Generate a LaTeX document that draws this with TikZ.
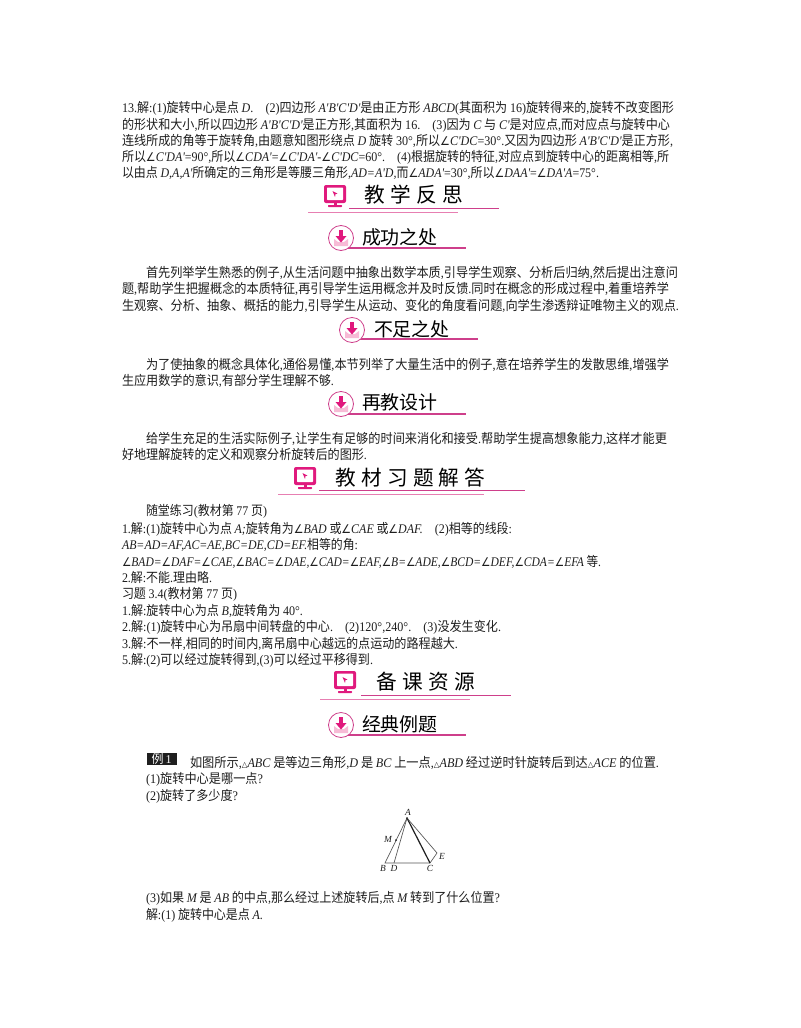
\documentclass[tikz,border=0pt]{standalone}
\usepackage{fontspec}
\usepackage{graphicx}
\setmainfont{Noto Sans CJK SC}
\newfontfamily\latf{Liberation Serif}
\newfontfamily\djvf{DejaVu Sans}
\newcommand{\ra}[1]{{\latf #1}}
\newcommand{\ia}[1]{{\latf\itshape #1}}
\newcommand{\ang}{{\djvf\small ∠}}
\newcommand{\tri}{{\djvf\fontsize{6}{6}\selectfont △}}
\definecolor{ink}{HTML}{1E1E1E}
\definecolor{mag}{HTML}{E0197D}
\definecolor{ruleA}{HTML}{CE3F8B}
\definecolor{ruleB}{HTML}{E77FB2}
\definecolor{envl}{HTML}{F7BBD6}
\tikzset{
  x=0.75pt,y=-0.75pt,
  txt/.style={anchor=base west,inner sep=0pt,outer sep=0pt,yshift=-0.75pt,text=ink,font=\fontsize{9.9}{12}\selectfont},
  subt/.style={anchor=base west,inner sep=0pt,outer sep=0pt,yshift=-0.75pt,text=black,font=\fontsize{14.2}{16}\selectfont},
  headt/.style={anchor=base west,inner sep=0pt,outer sep=0pt,yshift=-0.75pt,text=black,font=\fontsize{15.5}{18}\selectfont},
  lab/.style={inner sep=0pt,outer sep=0pt,text=ink,font=\latf\itshape\fontsize{7}{8}\selectfont},
  ruleone/.style={draw=ruleA,line width=0.75pt},
  ruletwo/.style={draw=ruleB,line width=0.75pt},
  subrule/.style={draw=ruleA,line width=1pt},
  geo/.style={draw=ink!75,line width=0.5pt},
  geobold/.style={draw=ink,line width=0.9pt},
}
\newcommand{\hgap}{\hspace{4pt}}
% text line: name, x, y of baseline, right end, text
\newcommand{\tlx}[5]{\pgfmathsetlengthmacro{\tlw}{(#4-#2)*0.75}%
  \node[txt] (#1) at (#2,#3) {\resizebox{\tlw}{\height}{#5}};}
% monitor icon centred at x,y
\newcommand{\monitor}[2]{%
  \begin{scope}[shift={(#1,#2)}]
    \fill[mag,rounded corners=1.5pt] (-11,-11) rectangle (11,7);
    \fill[white,rounded corners=0.5pt] (-8,-8.5) rectangle (8,4);
    \fill[mag] (-2.5,-5) -- (2.5,-2.5) -- (0.5,-1.8) -- (0,1) -- cycle;
    \fill[mag] (-1.5,7) rectangle (1.5,9);
    \fill[mag,rounded corners=0.5pt] (-7,9) rectangle (7,11);
  \end{scope}}
% circle icon centred at x,y
\newcommand{\badge}[2]{%
  \begin{scope}[shift={(#1,#2)}]
    \fill[white] (0,0) circle (12.5);
    \fill[envl] (-7,1) -- (-3,4) -- (3,4) -- (7,1) -- (7,8) -- (-7,8) -- cycle;
    \draw[ruleA,line width=0.6pt] (0,0) circle (12.5);
    \fill[mag] (-2.2,-8) rectangle (2.2,-1.5);
    \fill[mag] (-5.5,-2) -- (5.5,-2) -- (0,4.5) -- cycle;
  \end{scope}}
\begin{document}
\begin{tikzpicture}
\useasboundingbox (0,0) rectangle (800,1028);
\fill[white] (0,0) rectangle (800,1028);
% first block
\tlx{a1}{122}{111}{674}{\ra{13.}解\ra{:(1)}旋转中心是点 \ia{D}\ra{.}\quad\ra{(2)}四边形 \ia{A'B'C'D'}是由正方形 \ia{ABCD}\ra{(}其面积为 \ra{16)}旋转得来的\ra{,}旋转不改变图形}
\tlx{a2}{122}{128}{670}{的形状和大小\ra{,}所以四边形 \ia{A'B'C'D'}是正方形\ra{,}其面积为 \ra{16.}\quad\ra{(3)}因为 \ia{C} 与 \ia{C'}是对应点\ra{,}而对应点与旋转中心}
\tlx{a3}{122}{144}{673}{连线所成的角等于旋转角\ra{,}由题意知图形绕点 \ia{D} 旋转 \ra{30°,}所以\ang\ia{C'DC}\ra{=30°.}又因为四边形 \ia{A'B'C'D'}是正方形\ra{,}}
\tlx{a4}{122}{160}{669}{所以\ang\ia{C'DA'}\ra{=90°,}所以\ang\ia{CDA'}\ra{=}\ang\ia{C'DA'}\ra{-}\ang\ia{C'DC}\ra{=60°.}\quad\ra{(4)}根据旋转的特征\ra{,}对应点到旋转中心的距离相等\ra{,}所}
\tlx{a5}{122}{176}{599}{以由点 \ia{D,A,A'}所确定的三角形是等腰三角形\ra{,}\ia{AD=A'D,}而\ang\ia{ADA'}\ra{=30°,}所以\ang\ia{DAA'}\ra{=}\ang\ia{DA'A}\ra{=75°.}}
% heading 1
\monitor{335}{196}
\node[headt] (h1) at (364,201) {教\hgap 学\hgap 反\hgap 思};
\coordinate (h1a) at (349,208); \coordinate (h1b) at (499,208);
\coordinate (h1c) at (308,212); \coordinate (h1d) at (458,212);
\draw[ruleone] (h1a) -- (h1b);
\draw[ruletwo] (h1c) -- (h1d);
% sub 1
\coordinate (s1a) at (347,248); \coordinate (s1b) at (466,248);
\draw[subrule] (s1a) -- (s1b);
\badge{341}{238}
\node[subt] (s1) at (362,243) {成功之处};
\tlx{b1}{146}{276}{678}{首先列举学生熟悉的例子\ra{,}从生活问题中抽象出数学本质\ra{,}引导学生观察、分析后归纳\ra{,}然后提出注意问}
\tlx{b2}{122}{292}{669}{题\ra{,}帮助学生把握概念的本质特征\ra{,}再引导学生运用概念并及时反馈\ra{.}同时在概念的形成过程中\ra{,}着重培养学}
\tlx{b3}{122}{309}{679}{生观察、分析、抽象、概括的能力\ra{,}引导学生从运动、变化的角度看问题\ra{,}向学生渗透辩证唯物主义的观点\ra{.}}
% sub 2
\coordinate (s2a) at (358,339); \coordinate (s2b) at (478,339);
\draw[subrule] (s2a) -- (s2b);
\badge{352}{330}
\node[subt] (s2) at (374,335) {不足之处};
\tlx{c1}{146}{368}{669}{为了使抽象的概念具体化\ra{,}通俗易懂\ra{,}本节列举了大量生活中的例子\ra{,}意在培养学生的发散思维\ra{,}增强学}
\tlx{c2}{122}{384}{334}{生应用数学的意识\ra{,}有部分学生理解不够\ra{.}}
% sub 3
\coordinate (s3a) at (347,414); \coordinate (s3b) at (466,414);
\draw[subrule] (s3a) -- (s3b);
\badge{341}{404}
\node[subt] (s3) at (362,408) {再教设计};
\tlx{d1}{146}{442}{667}{给学生充足的生活实际例子\ra{,}让学生有足够的时间来消化和接受\ra{.}帮助学生提高想象能力\ra{,}这样才能更}
\tlx{d2}{122}{458}{367}{好地理解旋转的定义和观察分析旋转后的图形\ra{.}}
% heading 2
\monitor{305}{478}
\node[headt] (h2) at (335,484) {教\hgap 材\hgap 习\hgap 题\hgap 解\hgap 答};
\coordinate (h2a) at (319,490); \coordinate (h2b) at (525,490);
\coordinate (h2c) at (278,494); \coordinate (h2d) at (484,494);
\draw[ruleone] (h2a) -- (h2b);
\draw[ruletwo] (h2c) -- (h2d);
% answers
\tlx{e0}{146}{514}{267}{随堂练习\ra{(}教材第 \ra{77} 页\ra{)}}
\tlx{e1}{122}{532}{512}{\ra{1.}解\ra{:(1)}旋转中心为点 \ia{A;}旋转角为\ang\ia{BAD} 或\ang\ia{CAE} 或\ang\ia{DAF.}\quad\ra{(2)}相等的线段\ra{:}}
\tlx{e2}{122}{548}{358}{\ia{AB=AD=AF,AC=AE,BC=DE,CD=EF.}相等的角\ra{:}}
\tlx{e3}{122}{565}{601}{\ang\ia{BAD=}\ang\ia{DAF=}\ang\ia{CAE,}\ang\ia{BAC=}\ang\ia{DAE,}\ang\ia{CAD=}\ang\ia{EAF,}\ang\ia{B=}\ang\ia{ADE,}\ang\ia{BCD=}\ang\ia{DEF,}\ang\ia{CDA=}\ang\ia{EFA} 等\ra{.}}
\tlx{e4}{122}{581}{212}{\ra{2.}解\ra{:}不能\ra{.}理由略\ra{.}}
\tlx{e5}{122}{597}{237}{习题 \ra{3.4(}教材第 \ra{77} 页\ra{)}}
\tlx{e6}{122}{614}{303}{\ra{1.}解\ra{:}旋转中心为点 \ia{B,}旋转角为 \ra{40°.}}
\tlx{e7}{122}{630}{501}{\ra{2.}解\ra{:(1)}旋转中心为吊扇中间转盘的中心\ra{.}\quad\ra{(2)120°,240°.}\quad\ra{(3)}没发生变化\ra{.}}
\tlx{e8}{122}{647}{458}{\ra{3.}解\ra{:}不一样\ra{,}相同的时间内\ra{,}离吊扇中心越远的点运动的路程越大\ra{.}}
\tlx{e9}{122}{663}{373}{\ra{5.}解\ra{:(2)}可以经过旋转得到\ra{,(3)}可以经过平移得到\ra{.}}
% heading 3
\monitor{345}{682}
\node[headt] (h3) at (376,688) {备\hgap 课\hgap 资\hgap 源};
\coordinate (h3a) at (361,695); \coordinate (h3b) at (511,695);
\coordinate (h3c) at (320,699); \coordinate (h3d) at (470,699);
\draw[ruleone] (h3a) -- (h3b);
\draw[ruletwo] (h3c) -- (h3d);
% sub 4
\coordinate (s4a) at (347,735); \coordinate (s4b) at (466,735);
\draw[subrule] (s4a) -- (s4b);
\badge{341}{725}
\node[subt] (s4) at (362,730) {经典例题};
% example
\node[fill=black!88,text=white,inner sep=0pt,minimum width=22.5pt,minimum height=9.5pt,font=\fontsize{9}{9}\selectfont] (ex) at (161.5,759) {例\,\ra{1}};
\tlx{f1}{190}{766}{659}{如图所示\ra{,}\tri\ia{ABC} 是等边三角形\ra{,}\ia{D} 是 \ia{BC} 上一点\ra{,}\tri\ia{ABD} 经过逆时针旋转后到达\tri\ia{ACE} 的位置\ra{.}}
\tlx{f2}{146}{782}{263}{\ra{(1)}旋转中心是哪一点\ra{?}}
\tlx{f3}{146}{799}{238}{\ra{(2)}旋转了多少度\ra{?}}
\tlx{f4}{146}{901}{500}{\ra{(3)}如果 \ia{M} 是 \ia{AB} 的中点\ra{,}那么经过上述旋转后\ra{,}点 \ia{M} 转到了什么位置\ra{?}}
\tlx{f5}{146}{918}{263}{解\ra{:(1)} 旋转中心是点 \ia{A.}}
% figure
\coordinate (A) at (407,818);
\coordinate (B) at (385,863);
\coordinate (D) at (394,863);
\coordinate (C) at (430,863);
\coordinate (E) at (437,853);
\coordinate (M) at (396,840);
\draw[geo] (A) -- (B) -- (C);
\draw[geo] (A) -- (D);
\draw[geobold] (A) -- (C);
\draw[geo] (A) -- (E) -- (C);
\fill[ink] (M) circle (1);
\fill[ink] (A) circle (0.9);
\node[lab] (lA) at (408,812) {A};
\node[lab] (lM) at (388,839) {M};
\node[lab] (lB) at (383,868) {B};
\node[lab] (lD) at (394,868) {D};
\node[lab] (lC) at (430,868) {C};
\node[lab] (lE) at (442,856) {E};
\end{tikzpicture}
\end{document}
